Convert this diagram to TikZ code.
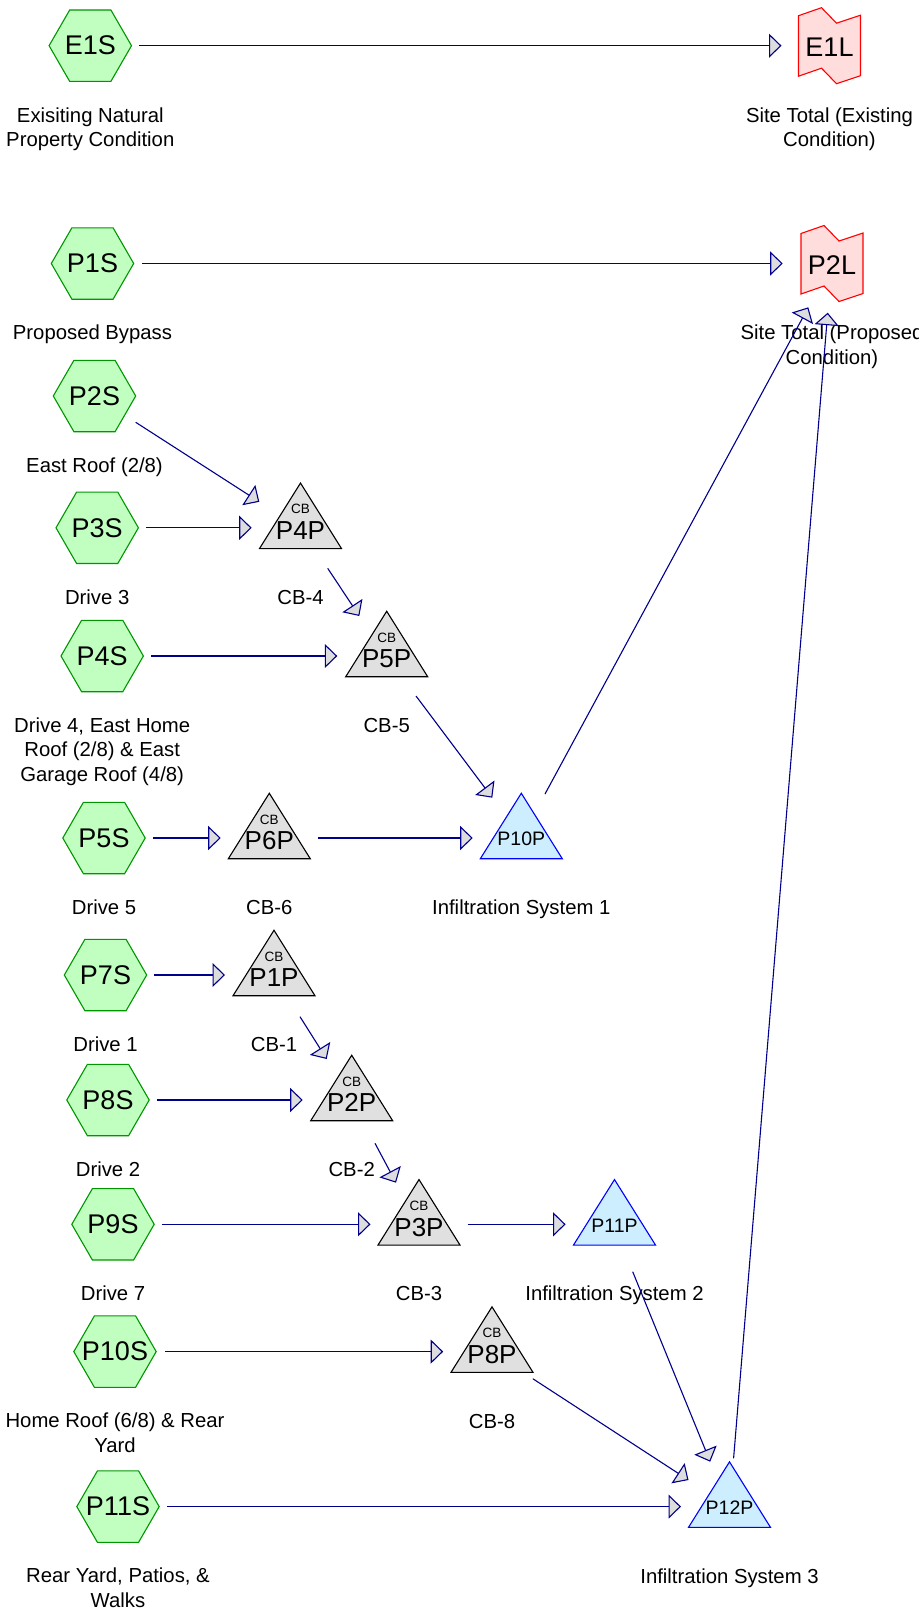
\documentclass[tikz,border=0pt]{standalone}
\usepackage{fontspec}
\setmainfont{Liberation Sans}
\usetikzlibrary{arrows.meta,calc}
\definecolor{hexfill}{RGB}{192,255,192}
\definecolor{hexdraw}{RGB}{0,150,0}
\definecolor{cbfill}{RGB}{224,224,224}
\definecolor{inffill}{RGB}{204,238,255}
\definecolor{infdraw}{RGB}{0,0,255}
\definecolor{linkfill}{RGB}{255,221,221}
\definecolor{linkdraw}{RGB}{255,0,0}
\definecolor{flowcol}{RGB}{0,0,140}
\definecolor{arrowfill}{RGB}{221,221,221}
\tikzset{
  box/.style={rectangle, inner sep=0pt, outer sep=0pt},
  hexbox/.style={box, minimum width=82.4pt, minimum height=71.4pt},
  tribox/.style={box, minimum width=82pt, minimum height=65.5pt},
  linkbox/.style={box, minimum width=62pt, minimum height=76pt},
  hexshape/.style={fill=hexfill, draw=hexdraw, line width=1.1pt},
  cbshape/.style={fill=cbfill, draw=black, line width=1.1pt},
  infshape/.style={fill=inffill, draw=infdraw, line width=1.1pt},
  linkshape/.style={fill=linkfill, draw=linkdraw, line width=1.1pt},
  idtext/.style={font=\fontsize{27}{30}\selectfont, inner sep=0pt},
  cbsmall/.style={font=\fontsize{13.5}{15}\selectfont, inner sep=0pt},
  cbbig/.style={font=\fontsize{26}{28}\selectfont, inner sep=0pt},
  inftext/.style={font=\fontsize{19.5}{22}\selectfont, inner sep=0pt},
  lbl/.style={font=\fontsize{20.3}{24.5}\selectfont, anchor=base, inner sep=0pt},
  flow/.style={draw=flowcol, line width=1.1pt, -{Triangle[length=12.5pt,width=24pt,fill=arrowfill]}},
}
\newcommand\lblines[1]{\begin{tabular}[t]{@{}c@{}}#1\end{tabular}}
\newcommand\hexnode[4]{%
  \node[hexbox] (#1) at (#2,#3) {};
  \filldraw[hexshape, shift={(#1)}] (-41.2,0) -- (-20.6,-35.7) -- (20.6,-35.7) -- (41.2,0) -- (20.6,35.7) -- (-20.6,35.7) -- cycle;
  \node[idtext] at (#1) {#1};
  \node[lbl] at ($(#1)+(0,76.3)$) {\lblines{#4}};
}
\newcommand\linknode[4]{%
  \node[linkbox] (#1) at (#2,#3) {};
  \filldraw[linkshape, shift={(#1)}] (-31,-30) -- (-8,-38) -- (7,-22.5) -- (31,-30.5) -- (31,30) -- (7,38) -- (-8,22.5) -- (-31,30.5) -- cycle;
  \node[idtext] at ($(#1)+(0,2)$) {#1};
  \node[lbl] at ($(#1)+(0,76.3)$) {\lblines{#4}};
}
\newcommand\cbnode[4]{%
  \node[tribox] (#1) at (#2,#3) {};
  \filldraw[cbshape, shift={(#1)}] (-41,32.75) -- (41,32.75) -- (0,-32.75) -- cycle;
  \node[cbsmall] at ($(#1)+(0,-6.5)$) {CB};
  \node[cbbig] at ($(#1)+(0,14.75)$) {#1};
  \node[lbl] at ($(#1)+(0,88.5)$) {\lblines{#4}};
}
\newcommand\infnode[4]{%
  \node[tribox] (#1) at (#2,#3) {};
  \filldraw[infshape, shift={(#1)}] (-41,32.75) -- (41,32.75) -- (0,-32.75) -- cycle;
  \node[inftext] at ($(#1)+(0,13.25)$) {#1};
  \node[lbl] at ($(#1)+(0,88.5)$) {\lblines{#4}};
}
\begin{document}
\begin{tikzpicture}[x=1pt,y=-1pt]
\useasboundingbox (0,0) rectangle (918,1611);
\fill[white] (0,0) rectangle (918,1611);

\hexnode{E1S}{90.3}{45.7}{Exisiting Natural\\Property Condition}
\hexnode{P1S}{92.5}{263.5}{Proposed Bypass}
\hexnode{P2S}{94.5}{396}{East Roof (2/8)}
\hexnode{P3S}{97.2}{527.8}{Drive 3}
\hexnode{P4S}{102.2}{656}{Drive 4, East Home\\Roof (2/8) \& East\\Garage Roof (4/8)}
\hexnode{P5S}{104}{838}{Drive 5}
\hexnode{P7S}{105.5}{975}{Drive 1}
\hexnode{P8S}{108}{1100}{Drive 2}
\hexnode{P9S}{113}{1224.3}{Drive 7}
\hexnode{P10S}{115}{1351.6}{Home Roof (6/8) \& Rear\\Yard}
\hexnode{P11S}{118}{1506.6}{Rear Yard, Patios, \&\\Walks}

\linknode{E1L}{829.5}{45.7}{Site Total (Existing\\Condition)}
\linknode{P2L}{832}{263.5}{Site Total (Proposed\\Condition)}

\cbnode{P4P}{300.5}{515.8}{CB-4}
\cbnode{P5P}{386.7}{644}{CB-5}
\cbnode{P6P}{269.3}{826}{CB-6}
\infnode{P10P}{521.3}{826}{Infiltration System 1}
\cbnode{P1P}{274}{963}{CB-1}
\cbnode{P2P}{351.7}{1088}{CB-2}
\cbnode{P3P}{419}{1212.3}{CB-3}
\infnode{P11P}{614.5}{1212.3}{Infiltration System 2}
\cbnode{P8P}{492}{1339.6}{CB-8}
\infnode{P12P}{729.5}{1494.6}{Infiltration System 3}

\draw[flow] ($(E1S)+(48.7,0)$) -- ($(E1L)+(-48,0)$);
\draw[flow] ($(P1S)+(49.5,0)$) -- ($(P2L)+(-49.3,0)$);
\draw[flow] ($(P2S)+(41.2,26.3)$) -- ($(P4P)+(-41.2,-14)$);
\draw[flow] ($(P3S)+(48.8,0)$) -- ($(P4P)+(-48.8,12)$);
\draw[flow] ($(P4P)+(27.2,52.5)$) -- ($(P5P)+(-27.4,-28)$);
\draw[flow] ($(P4S)+(48.8,0)$) -- ($(P5P)+(-49.4,12)$);
\draw[flow] ($(P5P)+(29.3,52)$) -- ($(P10P)+(-29,-28.3)$);
\draw[flow] ($(P5S)+(48.7,0)$) -- ($(P6P)+(-48.6,12)$);
\draw[flow] ($(P6P)+(49,12)$) -- ($(P10P)+(-48.6,12)$);
\draw[flow] ($(P10P)+(23.7,-32)$) -- ($(P2L)+(-23.7,43.8)$);
\draw[flow] ($(P7S)+(48.8,0)$) -- ($(P1P)+(-49,12)$);
\draw[flow] ($(P1P)+(26,53.7)$) -- ($(P2P)+(-25,-29)$);
\draw[flow] ($(P8S)+(48.7,0)$) -- ($(P2P)+(-49,12)$);
\draw[flow] ($(P2P)+(23.3,55.3)$) -- ($(P3P)+(-23,-29.6)$);
\draw[flow] ($(P9S)+(48.9,0)$) -- ($(P3P)+(-48.5,12)$);
\draw[flow] ($(P3P)+(48.7,12)$) -- ($(P11P)+(-48.9,12)$);
\draw[flow] ($(P10S)+(50,0)$) -- ($(P8P)+(-48.8,12)$);
\draw[flow] ($(P11P)+(18.2,59.4)$) -- ($(P12P)+(-19.3,-32.9)$);
\draw[flow] ($(P8P)+(40.8,39.1)$) -- ($(P12P)+(-41,-14.6)$);
\draw[flow] ($(P11S)+(48.9,0)$) -- ($(P12P)+(-48.5,12)$);
\draw[flow] ($(P12P)+(4.1,-36.3)$) -- ($(P2L)+(-4.3,49.2)$);
\end{tikzpicture}
\end{document}
